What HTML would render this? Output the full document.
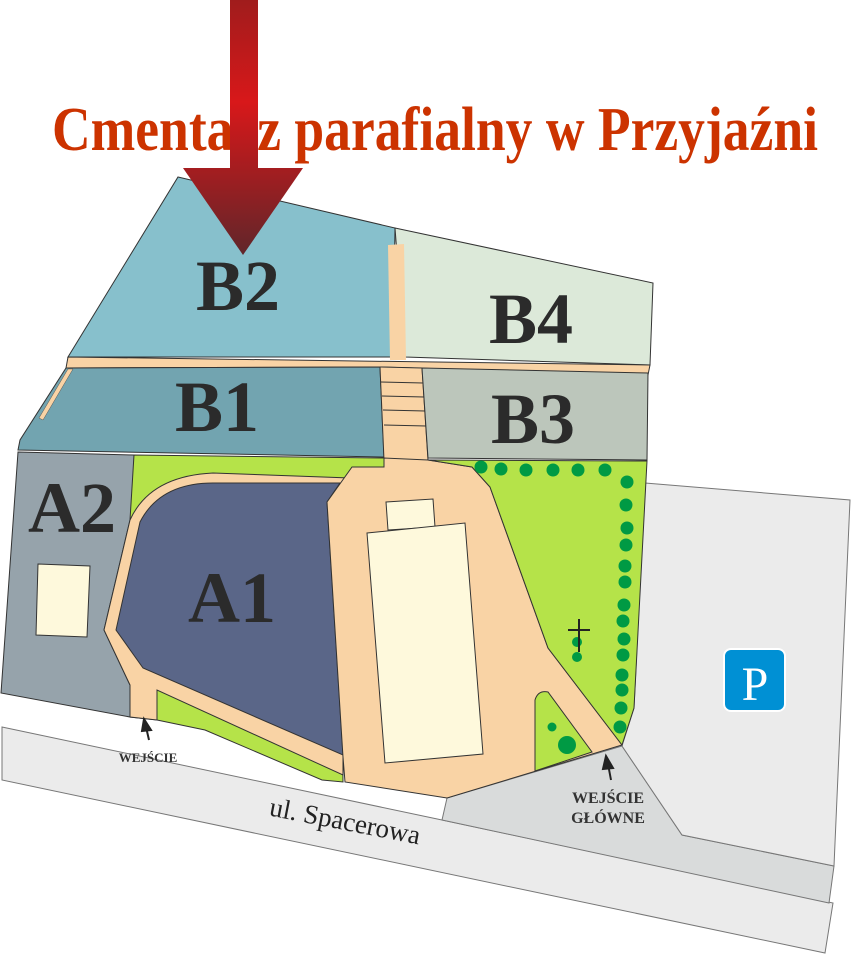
<!DOCTYPE html>
<html><head><meta charset="utf-8"><style>html,body{margin:0;padding:0;background:#fff}svg{display:block}</style></head><body>
<svg width="852" height="955" viewBox="0 0 852 955" xmlns="http://www.w3.org/2000/svg" font-family="Liberation Serif, serif">
<defs>
<linearGradient id="ar2" x1="0" y1="0" x2="0" y2="255" gradientUnits="userSpaceOnUse">
<stop offset="0" stop-color="#a01c1c"/><stop offset="0.4" stop-color="#d8181a"/><stop offset="0.66" stop-color="#a51d20"/><stop offset="1" stop-color="#60262a"/>
</linearGradient>
</defs>
<g stroke="#333" stroke-width="1">
<polygon points="2,727 442,820 833,903 825,953 2,780" fill="#ebebeb" stroke="#777"/>
<polygon points="447,798 622,746 682,835 834,866 829,903 442,820" fill="#d9dbdb" stroke="#777"/>
<polygon points="645,483 850,500 834,866 682,835 622,746 634,708" fill="#ebebeb" stroke="#777"/>
<polygon points="178,177 395,228 393,357 68,357" fill="#87c0cc"/>
<polygon points="395,228 653,283 650,365 405,357" fill="#dce9d9"/>
<polygon points="388,245 404,244 406,360 390,360" fill="#f9d3a5" stroke="none"/>
<polygon points="68,357 650,365 648,375 380,367 66,368" fill="#f9d3a5"/>
<polygon points="66,368 380,367 384,457 18,450 20,440" fill="#72a4b0"/>
<polygon points="68,369 73,369 43,420 39,418" fill="#f9d3a5" stroke="#555" stroke-width="0.5"/>
<polygon points="380,367 422,368 428,460 384,460" fill="#f9d3a5"/>
<polygon points="422,368 648,373 647,460 428,458" fill="#bcc6bb"/>
<line x1="381" y1="382" x2="423" y2="383"/><line x1="382" y1="396" x2="424" y2="397"/><line x1="383" y1="410" x2="425" y2="411"/><line x1="384" y1="425" x2="426" y2="426"/>
<polygon points="18,452 134,455 130,685 130,717 1,693" fill="#96a3ab"/>
<polygon points="38,564 90,566 87,637 36,635" fill="#fef9dc"/>
<polygon points="134,455 384,458 384,470 345,478 340,483 343,782 322,780 205,730 157,720 130,717 130,685 104,630 130,520" fill="#b5e349"/>
<path d="M130,520 Q150,476 213,473 L350,478 L343,757 L343,775 L157,690 L157,720 L130,717 L130,685 L104,630 Z" fill="#f9d3a5"/>
<path d="M140,522 Q160,483 213,483 L340,483 L327,502 L343,755 L143,668 L116,630 Z" fill="#5a6688"/>
<polygon points="352,467 384,467 384,458 428,460 472,467 490,487 548,648 622,745 447,798 345,782 343,757 327,502" fill="#f9d3a5"/>
<polygon points="428,460 647,461 634,708 622,745 548,648 490,487 472,467" fill="#b5e349"/>
<path d="M535,700 Q538,690 548,692 L592,752 L535,771 Z" fill="#b5e349"/>
<polygon points="386,502 433,499 435,527 388,530" fill="#fef9dc"/>
<polygon points="367,533 465,523 483,754 385,763" fill="#fef9dc"/>
</g>
<g fill="#009a44">
<circle cx="481" cy="467" r="6.5"/><circle cx="501" cy="469" r="6.5"/><circle cx="526" cy="470" r="6.5"/><circle cx="553" cy="470" r="6.5"/><circle cx="578" cy="470" r="6.5"/><circle cx="605" cy="470" r="6.5"/>
<circle cx="627" cy="482" r="6.5"/><circle cx="626" cy="505" r="6.5"/><circle cx="627" cy="528" r="6.5"/><circle cx="626" cy="545" r="6.5"/><circle cx="625" cy="566" r="6.5"/><circle cx="625" cy="582" r="6.5"/><circle cx="624" cy="605" r="6.5"/><circle cx="623" cy="621" r="6.5"/><circle cx="624" cy="639" r="6.5"/><circle cx="623" cy="655" r="6.5"/><circle cx="622" cy="675" r="6.5"/><circle cx="622" cy="690" r="6.5"/><circle cx="621" cy="708" r="6.5"/><circle cx="620" cy="727" r="6.5"/>
<circle cx="577" cy="642" r="5"/><circle cx="577" cy="657" r="5"/><circle cx="552" cy="727" r="4.5"/><circle cx="567" cy="745" r="9"/>
</g>
<g stroke="#222" stroke-width="2"><line x1="579" y1="619" x2="579" y2="652"/><line x1="568" y1="630" x2="590" y2="630"/></g>
<rect x="724" y="649" width="61" height="62" rx="7" fill="#0090d4" stroke="#fff" stroke-width="2"/>
<text x="755" y="700" font-size="48" fill="#fff" text-anchor="middle">P</text>
<g font-weight="bold" fill="#2b2b2b" text-anchor="middle" font-size="72">
<text x="238" y="310">B2</text><text x="531" y="343">B4</text><text x="217" y="431">B1</text><text x="533" y="443">B3</text><text x="72" y="532">A2</text><text x="232" y="622">A1</text>
</g>
<g font-weight="bold" fill="#333" text-anchor="middle">
<text x="148" y="762" font-size="13">WEJŚCIE</text>
<text x="608" y="803" font-size="16">WEJŚCIE</text>
<text x="608" y="823" font-size="16">GŁÓWNE</text>
</g>
<g stroke="#222" stroke-width="2" fill="#222">
<line x1="149" y1="740" x2="146" y2="727"/><polygon points="144,719 151,730 142,731"/>
<line x1="611" y1="780" x2="608" y2="764"/><polygon points="606,756 613,768 603,769"/>
</g>
<text x="345" y="830" font-size="27" fill="#222" text-anchor="middle" transform="rotate(11 345 822)">ul. Spacerowa</text>
<text x="52" y="150" font-size="62" font-weight="bold" fill="#cc3300" textLength="766" lengthAdjust="spacingAndGlyphs">Cmentarz parafialny w Przyjaźni</text>
<rect x="230" y="0" width="28" height="170" fill="url(#ar2)"/>
<polygon points="183,168 303,168 243,255" fill="url(#ar2)"/>
</svg>
</body></html>
